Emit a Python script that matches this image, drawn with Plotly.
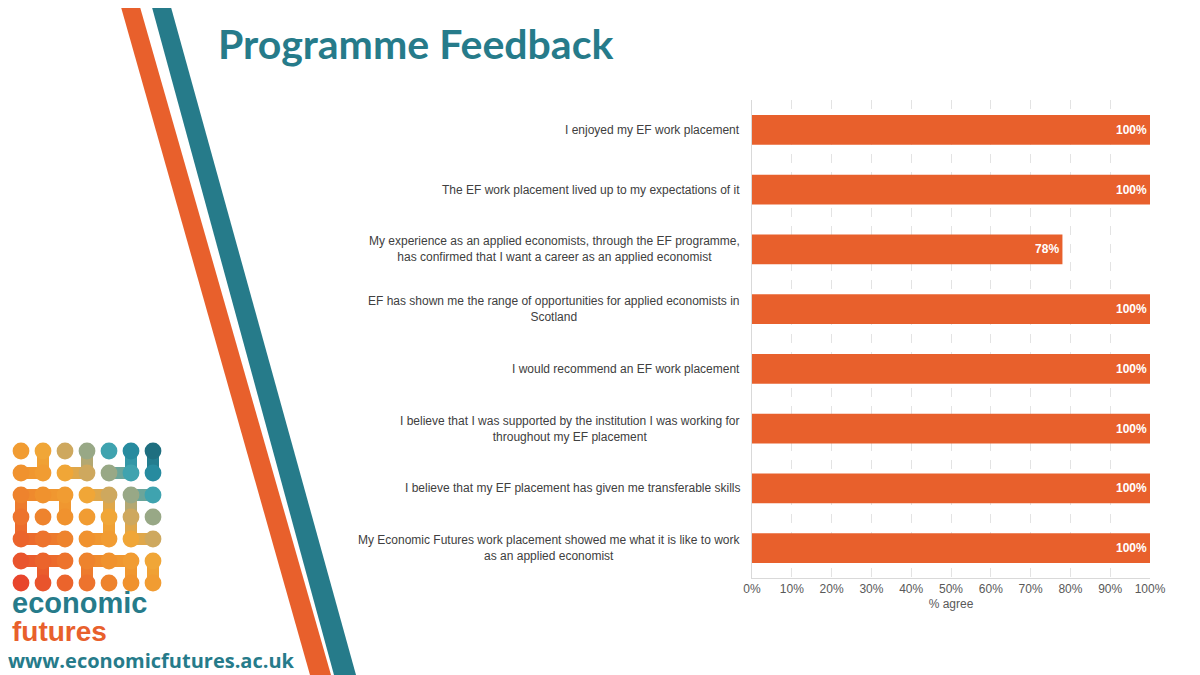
import plotly.graph_objects as go

categories = [
    "I enjoyed my EF work placement",
    "The EF work placement lived up to my expectations of it",
    "My experience as an applied economists, through the EF programme,<br>has confirmed that I want a career as an applied economist",
    "EF has shown me the range of opportunities for applied economists in<br>Scotland",
    "I would recommend an EF work placement",
    "I believe that I was supported by the institution I was working for<br>throughout my EF placement",
    "I believe that my EF placement has given me transferable skills",
    "My Economic Futures work placement showed me what it is like to work<br>as an applied economist",
]
pct_agree = [100, 100, 78, 100, 100, 100, 100, 100]
x_ticks = [0, 10, 20, 30, 40, 50, 60, 70, 80, 90, 100]
x_tick_labels = [f"{v}%" for v in x_ticks]

# page has an 8px body margin, so the figure sits at (8, 8)
OFF = 8
W, H = 1200 - OFF, 675 - OFF
L, R, T, B = 752 - OFF, 50, 100 - OFF, 97
PW, PH = W - L - R, H - T - B

def px(x):  # page pixel -> paper
    return (x - OFF - L) / PW

def py(y):
    return (H - B - (y - OFF)) / PH

ORANGE = "#E8602C"
TEAL = "#267B8A"

fig = go.Figure()
fig.add_trace(go.Bar(
    y=list(range(len(categories))),
    x=pct_agree,
    orientation="h",
    marker=dict(color=ORANGE, line=dict(width=0)),
    width=0.5,
    text=[f"{v}%" for v in pct_agree],
    textposition="inside",
    insidetextanchor="end",
    textangle=0,
    insidetextfont=dict(color="white", size=12, family="Liberation Sans"),
    texttemplate="<b>%{text}</b>",
    constraintext="none",
    hoverinfo="skip",
))

shapes = []
# diagonal stripes
shapes.append(dict(type="path", xref="paper", yref="paper",
                   path=f"M {px(119)} {py(0)} L {px(138)} {py(0)} L {px(331)} {py(675)} L {px(310)} {py(675)} Z",
                   fillcolor=ORANGE, line=dict(width=0), layer="above"))
shapes.append(dict(type="path", xref="paper", yref="paper",
                   path=f"M {px(150)} {py(0)} L {px(169)} {py(0)} L {px(356)} {py(675)} L {px(334)} {py(675)} Z",
                   fillcolor=TEAL, line=dict(width=0), layer="above"))

# logo dots
def mix(c1, c2, t):
    a = [int(c1[i:i+2], 16) for i in (1, 3, 5)]
    b = [int(c2[i:i+2], 16) for i in (1, 3, 5)]
    return "#" + "".join(f"{int(a[k] + (b[k]-a[k])*t):02x}" for k in range(3))

def grad(t):
    stops = [(0.0, "#E8452C"), (0.4, "#F0902E"), (0.58, "#F2A636"), (0.72, "#B9AA78"), (0.85, "#2EA3B8"), (1.0, "#1F6F80")]
    for i in range(len(stops) - 1):
        t0, c0 = stops[i]
        t1, c1 = stops[i+1]
        if t <= t1:
            return mix(c0, c1, (t - t0) / (t1 - t0))
    return stops[-1][1]

col_x = [21 + 22 * i for i in range(7)]
row_y = [451 + 22 * j for j in range(7)]
r = 8.4

def dot_color(c, rr):
    return grad((c + (6 - rr)) / 12.0)

links = [
    ((1, 0), (1, 1)), ((0, 1), (1, 1)),
    ((3, 0), (3, 1)), ((2, 1), (3, 1)),
    ((5, 0), (5, 1)), ((4, 1), (5, 1)), ((6, 0), (6, 1)),
    ((0, 2), (1, 2)), ((1, 2), (2, 2)), ((0, 2), (0, 3)), ((0, 3), (0, 4)),
    ((0, 4), (1, 4)), ((1, 4), (2, 4)), ((2, 2), (2, 3)),
    ((3, 2), (4, 2)), ((4, 2), (4, 3)), ((3, 4), (4, 4)), ((4, 3), (4, 4)),
    ((5, 2), (6, 2)), ((5, 2), (5, 3)), ((5, 3), (5, 4)), ((5, 4), (6, 4)),
    ((0, 5), (1, 5)), ((1, 5), (2, 5)), ((1, 5), (1, 6)),
    ((3, 5), (4, 5)), ((4, 5), (5, 5)), ((3, 5), (3, 6)), ((5, 5), (5, 6)),
    ((6, 5), (6, 6)),
]
for (c1, r1), (c2, r2) in links:
    col = mix(dot_color(c1, r1), dot_color(c2, r2), 0.5)
    shapes.append(dict(type="line", xref="paper", yref="paper",
                       x0=px(col_x[c1]), y0=py(row_y[r1]), x1=px(col_x[c2]), y1=py(row_y[r2]),
                       line=dict(color=col, width=12), layer="above"))
for rr in range(7):
    for c in range(7):
        cx, cy = col_x[c], row_y[rr]
        shapes.append(dict(type="circle", xref="paper", yref="paper",
                           x0=px(cx - r), x1=px(cx + r), y0=py(cy + r), y1=py(cy - r),
                           fillcolor=dot_color(c, rr), line=dict(width=0), layer="above"))

annotations = []
for i, cat in enumerate(categories):
    annotations.append(dict(x=0, xref="paper", y=i, yref="y", text=cat,
                            xanchor="right", yanchor="middle", align="center",
                            xshift=-10, showarrow=False,
                            font=dict(family="Liberation Sans", size=12, color="#404040")))

annotations.append(dict(x=px(216), y=py(44), xref="paper", yref="paper", text="<b>Programme Feedback</b>",
                        xanchor="left", yanchor="middle", showarrow=False,
                        font=dict(family="Lato", size=41, color=TEAL)))
annotations.append(dict(x=px(10), y=py(603), xref="paper", yref="paper", text="<b>economic</b>",
                        xanchor="left", yanchor="middle", showarrow=False,
                        font=dict(family="Liberation Sans", size=29, color=TEAL)))
annotations.append(dict(x=px(10), y=py(631), xref="paper", yref="paper", text="<b>futures</b>",
                        xanchor="left", yanchor="middle", showarrow=False,
                        font=dict(family="Liberation Sans", size=28, color=ORANGE)))
annotations.append(dict(x=px(6), y=py(660), xref="paper", yref="paper", text="<b>www.economicfutures.ac.uk</b>",
                        xanchor="left", yanchor="middle", showarrow=False,
                        font=dict(family="Open Sans", size=20, color=TEAL)))

fig.update_layout(
    width=W, height=H,
    margin=dict(l=L, r=R, t=T, b=B, pad=0),
    paper_bgcolor="white", plot_bgcolor="white",
    showlegend=False,
    shapes=shapes,
    annotations=annotations,
    bargap=0.5,
    font=dict(family="Liberation Sans", size=12, color="#595959"),
    xaxis=dict(range=[0, 100], tickmode="array", tickvals=x_ticks, ticktext=x_tick_labels,
               showgrid=True, gridcolor="#E3E3E3", griddash="dash", gridwidth=1,
               zeroline=False, showline=True, linecolor="#D9D9D9", linewidth=1,
               ticks="", tickfont=dict(size=12, color="#595959"),
               title=dict(text="% agree", font=dict(size=12, color="#595959"), standoff=4),
               fixedrange=True),
    yaxis=dict(range=[len(categories) - 0.5, -0.5], showticklabels=False,
               showgrid=False, zeroline=False, showline=True, linecolor="#D9D9D9",
               linewidth=1, ticks="", fixedrange=True),
)

fig.write_html("out.html")
